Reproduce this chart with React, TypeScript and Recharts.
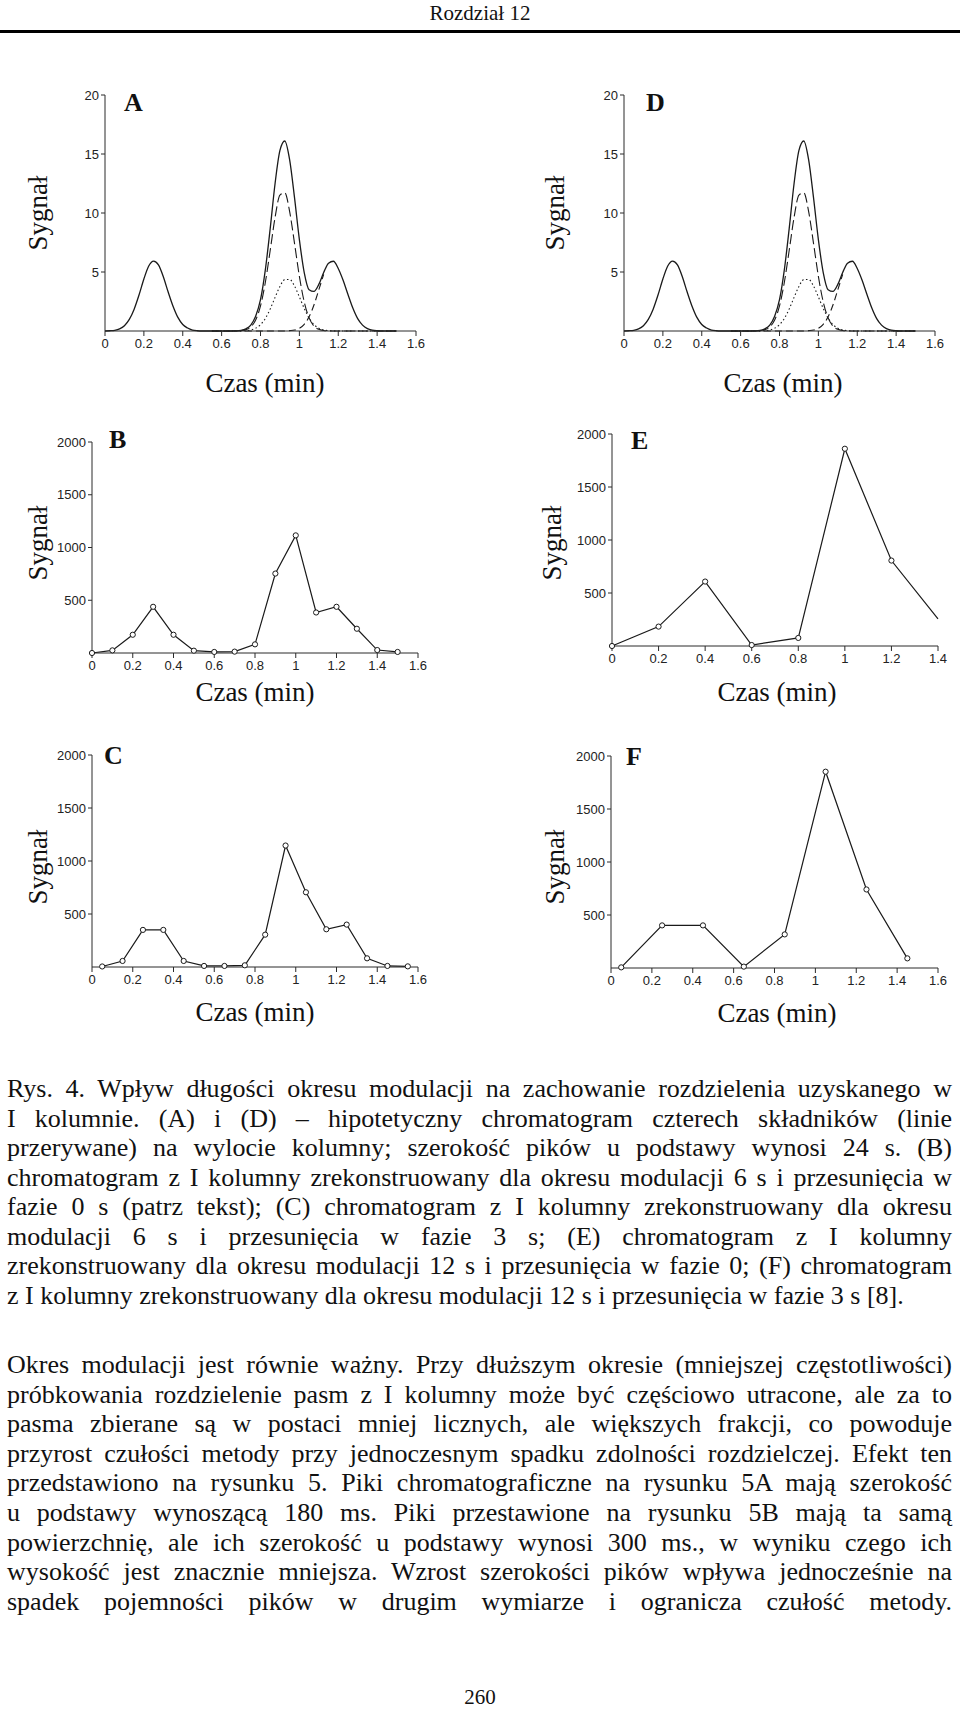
import { LineChart, Line, XAxis, YAxis } from 'recharts';

// hypothetical chromatogram (A, D): time grid + total signal + component peaks
const tA = [0, 0.025, 0.05, 0.075, 0.1, 0.125, 0.15, 0.175, 0.2, 0.225, 0.25, 0.275, 0.3, 0.325, 0.35, 0.375, 0.4, 0.425, 0.45, 0.475, 0.5, 0.525, 0.55, 0.575, 0.6, 0.625, 0.65, 0.675, 0.7, 0.725, 0.75, 0.775, 0.8, 0.825, 0.85, 0.875, 0.9, 0.925, 0.95, 0.975, 1, 1.025, 1.05, 1.075, 1.1, 1.125, 1.15, 1.175, 1.2, 1.225, 1.25, 1.275, 1.3, 1.325, 1.35, 1.375, 1.4, 1.425, 1.45, 1.475, 1.5];
const totalA = [0, 0.02, 0.06, 0.18, 0.45, 0.98, 1.85, 3.05, 4.41, 5.51, 5.93, 5.6, 4.6, 3.3, 2.1, 1.15, 0.55, 0.25, 0.08, 0.02, 0, 0, 0, 0, 0, 0, 0, 0.01, 0.05, 0.18, 0.5, 1.25, 2.65, 5.2, 8.7, 12.5, 15.3, 16.1, 14.5, 11.3, 7.75, 4.95, 3.5, 3.35, 3.95, 4.95, 5.75, 5.91, 5.3, 4.3, 3.1, 1.95, 1.05, 0.5, 0.2, 0.07, 0.02, 0, 0, 0, 0];
const peak2A = [null, null, null, null, null, null, null, null, null, null, null, null, null, null, null, null, null, null, null, null, null, null, 0, 0, 0, 0, 0, 0.01, 0.03, 0.11, 0.34, 0.93, 2.12, 4.13, 6.84, 9.63, 11.52, 11.71, 10.11, 7.43, 4.63, 2.46, 1.11, 0.42, 0.14, 0.04, 0.01, 0, 0, 0, 0, 0, 0, 0, 0, 0, 0, 0, 0, 0, 0];
const peak3A = [null, null, null, null, null, null, null, null, null, null, null, null, null, null, null, null, null, null, null, null, null, null, 0, 0, 0, 0, 0, 0, 0.01, 0.03, 0.09, 0.23, 0.53, 1.07, 1.87, 2.85, 3.78, 4.36, 4.37, 3.81, 2.89, 1.91, 1.1, 0.55, 0.24, 0.09, 0.03, 0.01, 0, 0, 0, 0, 0, 0, 0, 0, 0, 0, 0, 0, 0];
const peak4A = [null, null, null, null, null, null, null, null, null, null, null, null, null, null, null, null, null, null, null, null, null, null, 0, 0, 0, 0, 0, 0, 0, 0, 0, 0, 0, 0, 0, 0, 0, 0, 0.03, 0.08, 0.23, 0.57, 1.2, 2.2, 3.49, 4.8, null, null, null, null, null, null, null, null, null, null, null, null, null, null, null];

// reconstructed chromatograms
const tB = [0, 0.1, 0.2, 0.3, 0.4, 0.5, 0.6, 0.7, 0.8, 0.9, 1, 1.1, 1.2, 1.3, 1.4, 1.5];
const sB = [0, 25, 173, 438, 173, 22, 10, 13, 82, 753, 1115, 384, 438, 230, 28, 10];
const tC = [0.05, 0.15, 0.25, 0.35, 0.45, 0.55, 0.65, 0.75, 0.85, 0.95, 1.05, 1.15, 1.25, 1.35, 1.45, 1.55];
const sC = [5, 57, 350, 350, 57, 10, 10, 16, 305, 1146, 705, 356, 400, 82, 10, 6];
const tE = [0, 0.2, 0.4, 0.6, 0.8, 1, 1.2, 1.4];
const sE = [0, 183, 608, 9, 76, 1861, 806, 255];
const tF = [0.05, 0.25, 0.45, 0.65, 0.85, 1.05, 1.25, 1.45];
const sF = [6, 402, 402, 13, 317, 1852, 741, 91];

const ticks16 = [0, 0.2, 0.4, 0.6, 0.8, 1, 1.2, 1.4, 1.6];
const ticks14 = [0, 0.2, 0.4, 0.6, 0.8, 1, 1.2, 1.4];
const ticksY20 = [5, 10, 15, 20];
const ticksY2000 = [500, 1000, 1500, 2000];

const captionLines = [
  'Rys. 4. Wpływ długości okresu modulacji na zachowanie rozdzielenia uzyskanego w',
  'I kolumnie. (A) i (D) – hipotetyczny chromatogram czterech składników (linie',
  'przerywane) na wylocie  kolumny; szerokość pików u podstawy wynosi 24 s. (B)',
  'chromatogram z I kolumny zrekonstruowany dla okresu modulacji 6 s i przesunięcia w',
  'fazie 0 s (patrz tekst); (C) chromatogram z I kolumny zrekonstruowany dla okresu',
  'modulacji 6 s i przesunięcia w fazie 3 s; (E) chromatogram z I kolumny',
  'zrekonstruowany dla okresu modulacji 12 s i przesunięcia w fazie 0; (F) chromatogram',
  'z I kolumny zrekonstruowany dla okresu modulacji 12 s i przesunięcia w fazie 3 s [8].',
];
const paragraphLines = [
  'Okres modulacji jest równie ważny. Przy dłuższym okresie (mniejszej częstotliwości)',
  'próbkowania rozdzielenie pasm z I kolumny może być częściowo utracone, ale za to',
  'pasma zbierane są w postaci mniej licznych, ale większych frakcji, co powoduje',
  'przyrost czułości metody przy jednoczesnym spadku zdolności rozdzielczej. Efekt ten',
  'przedstawiono na rysunku 5. Piki chromatograficzne na rysunku 5A mają szerokość',
  'u podstawy wynoszącą 180 ms. Piki przestawione na rysunku 5B mają ta samą',
  'powierzchnię, ale ich szerokość u podstawy wynosi 300 ms., w wyniku czego ich',
  'wysokość jest znacznie mniejsza. Wzrost szerokości pików wpływa jednocześnie na',
  'spadek pojemności pików w drugim wymiarze i ogranicza czułość metody.',
];

const SERIF = '"Liberation Serif", "Times New Roman", serif';
const SANS = '"Liberation Sans", Arial, sans-serif';
const AX = '#2a2a2a';
const INK = '#1a1a1a';

const dataA = tA.map((t, i) => ({ t, total: totalA[i], p2: peak2A[i], p3: peak3A[i], p4: peak4A[i] }));
const toRows = (ts: number[], vs: number[]) => ts.map((t, i) => ({ t, v: vs[i] }));

const ML = 50;
const MT = 8;
const MR = 14;
const XH = 28;

function Panel({ left, top, w, h, xMax, xTicks, yMax, yTicks, data, children }: any) {
  return (
    <div style={{ position: 'absolute', left: left - ML, top: top - MT }}>
      <LineChart width={w + ML + MR} height={h + MT + XH} data={data} margin={{ top: MT, right: MR, left: 0, bottom: 0 }}>
        <XAxis
          type="number"
          dataKey="t"
          domain={[0, xMax]}
          ticks={xTicks}
          interval={0}
          height={XH}
          axisLine={{ stroke: AX }}
          tickLine={{ stroke: AX }}
          tickSize={5}
          tickMargin={3}
          tick={{ fontSize: 13, fontFamily: SANS, fill: '#222' }}
        />
        <YAxis
          type="number"
          domain={[0, yMax]}
          ticks={yTicks}
          interval={0}
          width={ML}
          axisLine={{ stroke: AX }}
          tickLine={{ stroke: AX }}
          tickSize={4}
          tickMargin={2}
          tick={{ fontSize: 13, fontFamily: SANS, fill: '#222' }}
        />
        {children}
      </LineChart>
    </div>
  );
}

function Labels({ letter, lx, ly, sx, sy, cx, cy }: any) {
  return (
    <>
      <div style={{ position: 'absolute', left: lx, top: ly - 13, fontSize: 26, fontWeight: 'bold', lineHeight: '26px' }}>{letter}</div>
      <div style={{ position: 'absolute', left: sx, top: sy, fontSize: 27, lineHeight: 1, whiteSpace: 'nowrap', transform: 'translate(-50%, -50%) rotate(-90deg)' }}>Sygnał</div>
      <div style={{ position: 'absolute', left: cx, top: cy, fontSize: 27, lineHeight: 1, whiteSpace: 'nowrap', transform: 'translate(-50%, -50%)' }}>Czas (min)</div>
    </>
  );
}

const curveLines = [
  <Line key="total" type="monotone" dataKey="total" stroke={INK} strokeWidth={1.3} dot={false} isAnimationActive={false} />,
  <Line key="p2" type="monotone" dataKey="p2" stroke={INK} strokeWidth={1.1} strokeDasharray="10 4" dot={false} isAnimationActive={false} />,
  <Line key="p3" type="monotone" dataKey="p3" stroke={INK} strokeWidth={1.1} strokeDasharray="1.5 2.5" dot={false} isAnimationActive={false} />,
  <Line key="p4" type="monotone" dataKey="p4" stroke={INK} strokeWidth={1.1} strokeDasharray="7 4" dot={false} isAnimationActive={false} />,
];

const dotStyle = { r: 2.6, fill: '#fff', stroke: INK, strokeWidth: 1 };

function pointLine(hideLast = false, n = 0) {
  const dot = hideLast
    ? (p: any) =>
        p.index === n - 1 ? (
          <g key={`d-${p.index}`} />
        ) : (
          <circle key={`d-${p.index}`} cx={p.cx} cy={p.cy} r={2.6} fill="#fff" stroke={INK} strokeWidth={1} />
        )
    : dotStyle;
  return <Line type="linear" dataKey="v" stroke={INK} strokeWidth={1.2} dot={dot} isAnimationActive={false} />;
}

export default function App() {
  return (
    <div style={{ position: 'absolute', left: 0, top: 0, width: 960, height: 1710, background: '#fff', overflow: 'hidden', fontFamily: SERIF, color: '#111' }}>
      <div style={{ position: 'absolute', left: 0, width: 960, top: 1, textAlign: 'center', fontSize: 21, lineHeight: '24px' }}>Rozdział 12</div>
      <div style={{ position: 'absolute', left: 0, width: 960, top: 30, height: 3, background: '#000' }} />

      <Panel left={105} top={95} w={311} h={236} xMax={1.6} xTicks={ticks16} yMax={20} yTicks={ticksY20} data={dataA}>
        {curveLines}
      </Panel>
      <Labels letter="A" lx={124} ly={103} sx={38} sy={213} cx={265} cy={383} />

      <Panel left={624} top={95} w={311} h={236} xMax={1.6} xTicks={ticks16} yMax={20} yTicks={ticksY20} data={dataA}>
        {curveLines}
      </Panel>
      <Labels letter="D" lx={646} ly={103} sx={555} sy={213} cx={783} cy={383} />

      <Panel left={92} top={442} w={326} h={211} xMax={1.6} xTicks={ticks16} yMax={2000} yTicks={ticksY2000} data={toRows(tB, sB)}>
        {pointLine()}
      </Panel>
      <Labels letter="B" lx={109} ly={440} sx={38} sy={543} cx={255} cy={692} />

      <Panel left={612} top={434} w={326} h={212} xMax={1.4} xTicks={ticks14} yMax={2000} yTicks={ticksY2000} data={toRows(tE, sE)}>
        {pointLine(true, tE.length)}
      </Panel>
      <Labels letter="E" lx={631} ly={441} sx={552} sy={543} cx={777} cy={692} />

      <Panel left={92} top={755} w={326} h={212} xMax={1.6} xTicks={ticks16} yMax={2000} yTicks={ticksY2000} data={toRows(tC, sC)}>
        {pointLine()}
      </Panel>
      <Labels letter="C" lx={104} ly={756} sx={38} sy={867} cx={255} cy={1012} />

      <Panel left={611} top={756} w={327} h={212} xMax={1.6} xTicks={ticks16} yMax={2000} yTicks={ticksY2000} data={toRows(tF, sF)}>
        {pointLine()}
      </Panel>
      <Labels letter="F" lx={626} ly={757} sx={555} sy={867} cx={777} cy={1013} />

      {captionLines.map((line, i) => (
        <div
          key={`c${i}`}
          style={{
            position: 'absolute', left: 7, width: 945, top: 1074 + i * 29.5, fontSize: 26, lineHeight: '30px',
            whiteSpace: 'nowrap', textAlign: 'justify', textAlignLast: i === captionLines.length - 1 ? 'left' : 'justify',
          }}
        >
          {line}
        </div>
      ))}
      {paragraphLines.map((line, i) => (
        <div
          key={`p${i}`}
          style={{
            position: 'absolute', left: 7, width: 945, top: 1350 + i * 29.6, fontSize: 26, lineHeight: '30px',
            whiteSpace: 'nowrap', textAlign: 'justify', textAlignLast: 'justify',
          }}
        >
          {line}
        </div>
      ))}
      <div style={{ position: 'absolute', left: 0, width: 960, top: 1686, textAlign: 'center', fontSize: 21, lineHeight: '22px' }}>260</div>
    </div>
  );
}
